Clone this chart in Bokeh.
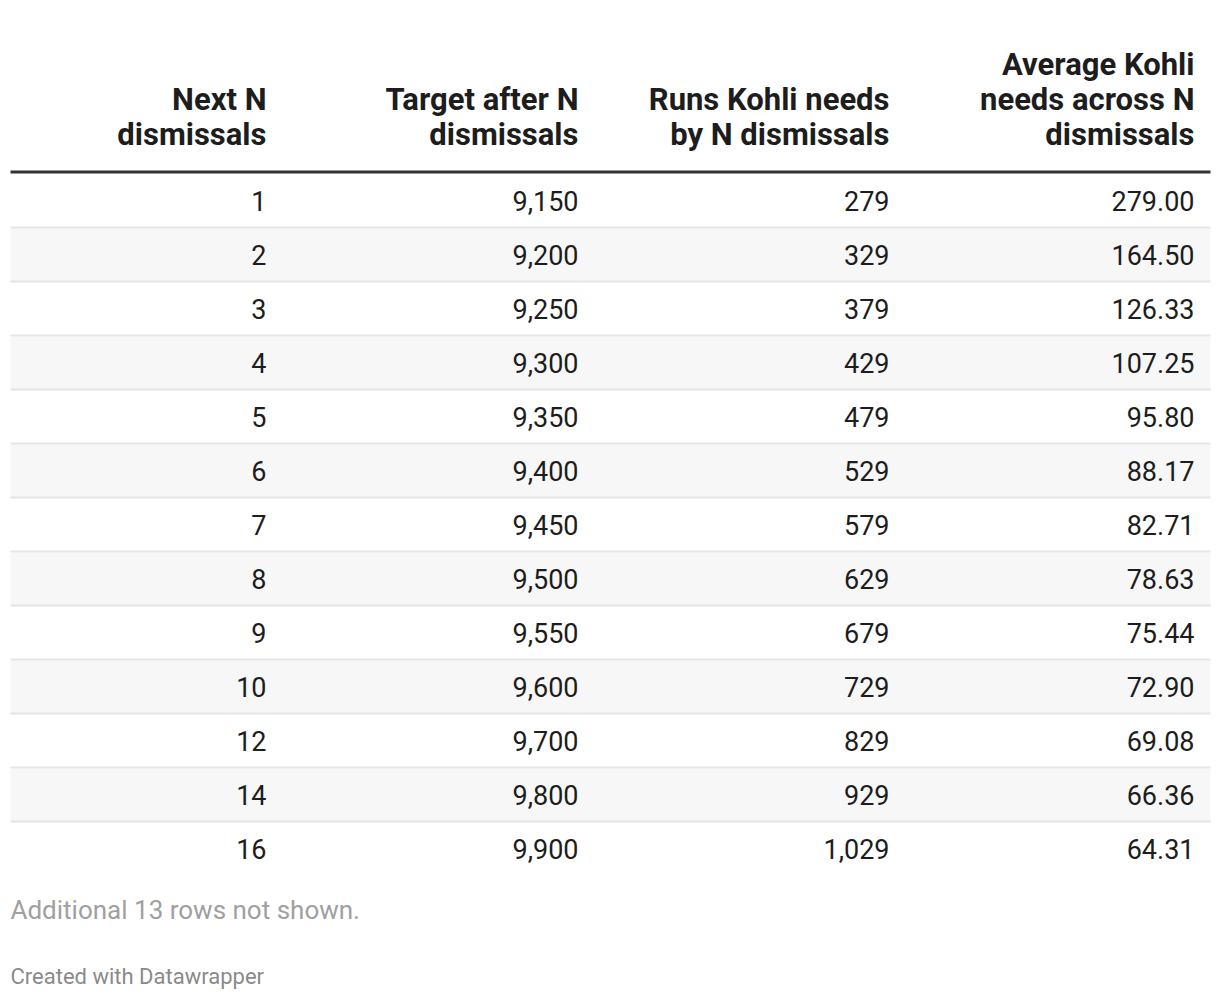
from bokeh.plotting import figure
from bokeh.models import Range1d
from bokeh.core.properties import value
from bokeh.embed import file_html
from bokeh.resources import INLINE

# ---- data ----
next_n = [1, 2, 3, 4, 5, 6, 7, 8, 9, 10, 12, 14, 16]
target = [9150, 9200, 9250, 9300, 9350, 9400, 9450, 9500, 9550, 9600, 9700, 9800, 9900]
runs_needed = [279, 329, 379, 429, 479, 529, 579, 629, 679, 729, 829, 929, 1029]
avg_needed = [279.00, 164.50, 126.33, 107.25, 95.80, 88.17, 82.71, 78.63, 75.44, 72.90, 69.08, 66.36, 64.31]
headers = [
    ["Next N", "dismissals"],
    ["Target after N", "dismissals"],
    ["Runs Kohli needs", "by N dismissals"],
    ["Average Kohli", "needs across N", "dismissals"],
]
note = "Additional 13 rows not shown."
credit = "Created with Datawrapper"

# ---- layout (page pixels) ----
W, H = 1212, 992
FONT = "Roboto"
col_right = [266, 578, 889, 1194]
tbl_left, tbl_right = 10, 1210
row_top0 = 174
row_h = 54
header_line_y = 171.5
header_bottom_center = 134
header_lh = 35

p = figure(width=W, height=H, output_backend="svg", toolbar_location=None,
           x_range=Range1d(0, W), y_range=Range1d(H, 0),
           min_border=0, outline_line_color=None)
p.axis.visible = False
p.grid.visible = False
p.background_fill_color = "white"
p.border_fill_color = "white"

n = len(next_n)
# stripes (every second row)
stripe_idx = [i for i in range(n) if i % 2 == 1]
p.quad(left=[tbl_left] * len(stripe_idx), right=[tbl_right] * len(stripe_idx),
       top=[row_top0 + row_h * i for i in stripe_idx],
       bottom=[row_top0 + row_h * (i + 1) for i in stripe_idx],
       fill_color="#f7f7f7", line_color=None)

# row separators
sep_y = [row_top0 + row_h * (i + 1) - 1 for i in range(n - 1)]
p.segment(x0=[tbl_left] * len(sep_y), x1=[tbl_right] * len(sep_y), y0=sep_y, y1=sep_y,
          line_color="#e6e6e6", line_width=2)

# header rule
p.segment(x0=[tbl_left], x1=[tbl_right], y0=[header_line_y], y1=[header_line_y],
          line_color="#333333", line_width=3)

# header texts
hx, hy, ht = [], [], []
for c, lines in enumerate(headers):
    k = len(lines)
    for j, t in enumerate(lines):
        hx.append(col_right[c])
        hy.append(header_bottom_center - (k - 1 - j) * header_lh)
        ht.append(t)
p.text(x=hx, y=hy, text=ht, text_align="right", text_baseline="middle",
       text_font=value(FONT), text_font_style="bold", text_font_size="31px",
       text_color="#1d1d1d")

# body texts
cols = [
    [str(v) for v in next_n],
    [f"{v:,}" for v in target],
    [f"{v:,}" for v in runs_needed],
    [f"{v:.2f}" for v in avg_needed],
]
bx, by, bt = [], [], []
for c, vals in enumerate(cols):
    for i, t in enumerate(vals):
        bx.append(col_right[c])
        by.append(row_top0 + row_h * i + 26.5)
        bt.append(t)
p.text(x=bx, y=by, text=bt, text_align="right", text_baseline="middle",
       text_font=value(FONT), text_font_size="27px", text_color="#1d1d1d")

# footer
p.text(x=[10], y=[909], text=[note], text_align="left", text_baseline="middle",
       text_font=value(FONT), text_font_size="26px", text_color="#a0a0a0")
p.text(x=[10], y=[976], text=[credit], text_align="left", text_baseline="middle",
       text_font=value(FONT), text_font_size="22px", text_color="#8a8a8a")

open("out.html", "w").write(file_html(p, INLINE))
